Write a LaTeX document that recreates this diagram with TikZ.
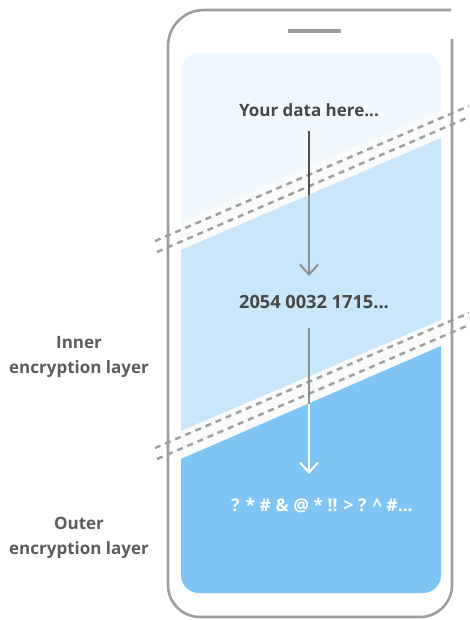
\documentclass[tikz,border=0pt]{standalone}
\usepackage{fontspec}
\setmainfont{Open Sans}
\usetikzlibrary{arrows.meta}

\definecolor{phonegray}{HTML}{9E9E9E}
\definecolor{layerA}{HTML}{F0F8FE}
\definecolor{layerB}{HTML}{C9E6FB}
\definecolor{layerC}{HTML}{7EC5F5}
\definecolor{gapwhite}{HTML}{F9FAFA}
\definecolor{textdark}{HTML}{474747}
\definecolor{textlabel}{HTML}{5C5C5C}
\definecolor{arrowdark}{HTML}{4F4F4F}
\definecolor{arrowmid}{HTML}{8E8E8E}

\tikzset{
  outline/.style={draw=phonegray, line width=2.6pt},
  seam/.style={draw=phonegray, line width=2.4pt, dash pattern=on 6pt off 5pt},
  datatext/.style={font=\bfseries\fontsize{17}{20}\selectfont, text=textdark, inner sep=0pt},
  cipher/.style={font=\bfseries\fontsize{17.5}{20}\selectfont, text=white, inner sep=0pt},
  layerlabel/.style={font=\bfseries\fontsize{17}{25}\selectfont, text=textlabel, align=center, inner sep=0pt},
  flow/.style={line width=2pt},
  flowtip/.style={line width=2pt, -{Straight Barb[length=10pt,width=18pt,line width=2pt]}}
}

\begin{document}
\begin{tikzpicture}[x=1pt,y=-1pt]
\useasboundingbox (0,0) rectangle (469,620);

% screen and its three layers
\fill[layerA, rounded corners=18pt] (181,53) rectangle (441,593);
\begin{scope}
  \clip[rounded corners=18pt] (181,53) rectangle (441,593);
  \fill[gapwhite] (160,222) -- (181,222) -- (441,110) -- (460,110) -- (460,600) -- (160,600) -- cycle;
  \fill[layerB]   (160,250) -- (181,250) -- (441,138) -- (460,138) -- (460,600) -- (160,600) -- cycle;
  \fill[gapwhite] (160,431) -- (181,431) -- (441,320) -- (460,320) -- (460,600) -- (160,600) -- cycle;
  \fill[layerC]   (160,459) -- (181,459) -- (441,346) -- (460,346) -- (460,600) -- (160,600) -- cycle;
\end{scope}

% phone body (open at the top right corner) and speaker slot
\draw[outline, line cap=butt]
  (451,10) -- (204,10) arc[start angle=90, end angle=180, radius=36pt]
  -- (168,585) arc[start angle=180, end angle=270, radius=32pt]
  -- (420,617) arc[start angle=270, end angle=360, radius=32pt]
  -- (452,39);
\draw[phonegray, line width=3.6pt] (288,31) -- (341,31);

% encryption layer boundaries
\coordinate (s1a) at (155,241); \coordinate (e1a) at (469,106);
\coordinate (s1b) at (157,252); \coordinate (e1b) at (469,117);
\coordinate (s2a) at (155,448); \coordinate (e2a) at (469,313);
\coordinate (s2b) at (157,459); \coordinate (e2b) at (469,325);
\draw[seam] (s1a) -- (e1a);
\draw[seam] (s1b) -- (e1b);
\draw[seam] (s2a) -- (e2a);
\draw[seam] (s2b) -- (e2b);

% texts
\node[datatext] (plain) at (309,110) {Your data here...};
\node[datatext, font=\bfseries\fontsize{18.2}{20}\selectfont] (inner) at (314,302) {2054 0032 1715...};
\node[cipher]   (outer) at (322,506) {? * \# \& @ * !! > ? \^{} \#...};

\node[layerlabel] (lblin)  at (79,357) {Inner\\encryption layer};
\node[layerlabel] (lblout) at (79,538) {Outer\\encryption layer};

% flow arrows
\coordinate (a1s) at (309,131);
\coordinate (a1m) at (309,195);
\coordinate (a1e) at (309,276);
\coordinate (a2s) at (309,328);
\coordinate (a2m) at (309,404);
\coordinate (a2e) at (309,474);
\draw[flow, arrowdark] (a1s) -- (a1m);
\draw[flowtip, arrowmid] (a1m) -- (a1e);
\draw[flow, arrowmid] (a2s) -- (a2m);
\draw[flowtip, white] (a2m) -- (a2e);
\end{tikzpicture}
\end{document}
